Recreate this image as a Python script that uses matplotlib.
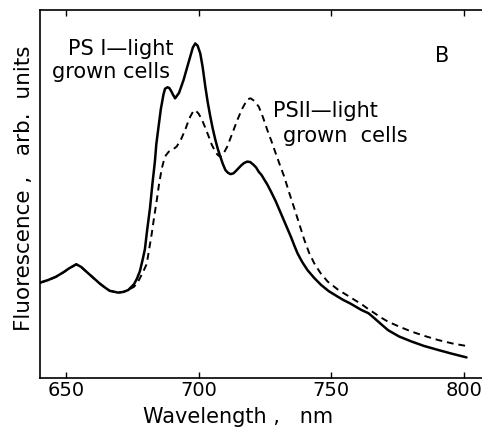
import matplotlib
matplotlib.use("Agg")
import matplotlib.pyplot as plt

plt.rcParams['font.family'] = ['DejaVu Sans']

# PS I-light grown cells (solid)
ps1_wl = [640, 643, 646, 649, 651, 653.7, 655.5, 657.5, 660, 662.5, 664.5, 666.3,
          669.5, 671.5, 673.3, 675.5, 676.6, 677.7, 678.7, 679.6, 680.5, 681.5,
          682.4, 683.4, 683.9, 684.7, 685.6, 686.6, 687.2, 688.1, 688.8, 689.5,
          690.2, 691.0, 692.5, 694.2, 695.5, 696.7, 697.7, 698.6, 699.5, 700.5,
          701.4, 702.4, 703.3, 704.3, 705.2, 706.2, 707.1, 708.1, 709, 710.0,
          710.9, 711.9, 713, 714, 716, 717, 718.2, 719.3, 720.5, 721.6, 722.6,
          723.6, 724.6, 725.8, 727.1, 729, 730.9, 732.8, 734.7, 736, 737.2, 739,
          741, 743.5, 746.1, 749, 752.4, 754.5, 757, 761.3, 764, 766.3, 768.5,
          771.4, 775.5, 780.3, 785, 790.4, 795.5, 801]
ps1_val = [25.9, 26.6, 27.5, 28.8, 29.8, 30.9, 30.2, 28.9, 27.3, 25.7, 24.6, 23.7,
           23.2, 23.4, 23.9, 25.5, 27, 29, 32, 35, 40.5, 46,
           52.5, 59, 63.5, 68, 73, 77, 78.6, 79, 78.8, 78,
           77, 76, 77.5, 81, 84.3, 87.3, 89.8, 90.9, 90.3, 88.2,
           84.5, 79.2, 75, 71, 67.8, 64.7, 62.3, 60.1, 58.2, 56.5,
           55.8, 55.4, 55.6, 56.3, 57.8, 58.4, 58.8, 58.7, 58, 57.2, 56,
           55.2, 54, 52.6, 50.8, 48, 44.8, 41.6, 38.4, 36, 33.9, 31.5,
           29.3, 27.2, 25.3, 23.6, 22.1, 21.2, 20.3, 18.5, 17.6, 16.2, 14.8,
           13, 11.3, 9.9, 8.7, 7.6, 6.6, 5.6]

# PS II-light grown cells (dashed)
ps2_wl = [640, 643, 646, 649, 651, 653.7, 655.5, 657.5, 660, 662.5, 664.5, 666.3,
          669.5, 671.5, 673.3, 675.5, 676.3, 677.1, 678.7, 680.3, 681.2, 682.2,
          683.1, 684.1, 685, 686, 686.8, 687.5, 688.6, 689.8, 690.7, 691.6,
          693.2, 694.8, 695.8, 696.7, 697.7, 698.6, 699.9, 701.2, 702.4, 703.7,
          704.9, 706.2, 707.1, 708.1, 709.3, 710.7, 712.5, 714.5, 716.2, 717.8,
          718.6, 719.5, 720.9, 722.6, 724.2, 725.8, 727.4, 729, 730.6, 732.2,
          734, 736, 737.9, 739.8, 741.6, 743.5, 746, 748.6, 752.5, 756.8, 759,
          761.3, 763.8, 766.3, 768.8, 771.4, 775.8, 780.3, 785.3, 790.4, 795.6,
          801]
ps2_val = [25.9, 26.6, 27.5, 28.8, 29.8, 30.9, 30.2, 28.9, 27.3, 25.7, 24.6, 23.7,
           23.2, 23.4, 23.9, 24.8, 25.5, 26.3, 28.5, 31, 35, 39.3,
           43.8, 48.4, 53, 57, 59.2, 60.5, 61.5, 62, 62.4, 62.9,
           64.8, 67.4, 69.4, 71, 72.3, 72.8, 71.8, 70.1, 68, 65.6,
           63.3, 61.5, 60.6, 60.1, 61, 62.9, 66.3, 70.1, 73, 75.1,
           75.8, 76, 75.3, 73.7, 70.8, 67.4, 64.3, 61, 57.8, 54.7,
           50.5, 46.1, 41.8, 37.5, 34, 31.2, 28.4, 26.2, 24, 22.1, 21.1,
           20.1, 18.8, 17.6, 16.4, 15.3, 13.9, 12.6, 11.4, 10.3, 9.4,
           8.7]

xticks = [650, 700, 750, 800]

W, H = 482, 428
fig = plt.figure(figsize=(W / 100, H / 100), dpi=100)
ax = fig.add_axes([40 / W, (H - 378) / H, (W - 40) / W, 368 / H])

ax.plot(ps1_wl, ps1_val, color='black', lw=1.8, solid_joinstyle='round',
        solid_capstyle='round')
ax.plot(ps2_wl, ps2_val, color='black', lw=1.4, linestyle=(0, (3.5, 2.5)))

ax.set_xlim(640, 640 + (W - 40) / 2.649)
ax.set_ylim(0, 100)
ax.set_xticks(xticks)
ax.set_yticks([])
ax.tick_params(axis='x', direction='in', top=True, bottom=True, length=4,
               width=1.0, labelsize=14, pad=2)
for s in ['left', 'bottom', 'top']:
    ax.spines[s].set_linewidth(1.2)
ax.spines['right'].set_visible(False)


def fx(px):
    return px / W


def fy(py):
    return 1 - py / H


fig.text(fx(238), fy(423), 'Wavelength ,   nm', fontsize=15, ha='center',
         va='baseline')
fig.text(fx(24), fy(188), 'Fluorescence ,   arb.  units', fontsize=15.5,
         rotation=90, ha='center', va='center')

fig.text(fx(68), fy(55), 'PS I\u2014light', fontsize=15, ha='left', va='baseline')
fig.text(fx(52), fy(78), 'grown cells', fontsize=15, ha='left', va='baseline')
fig.text(fx(273), fy(117), 'PSII\u2014light', fontsize=15, ha='left', va='baseline')
fig.text(fx(283), fy(142), 'grown  cells', fontsize=15, ha='left', va='baseline')
fig.text(fx(435), fy(62), 'B', fontsize=15, ha='left', va='baseline')

fig.savefig('out.png', dpi=100)
